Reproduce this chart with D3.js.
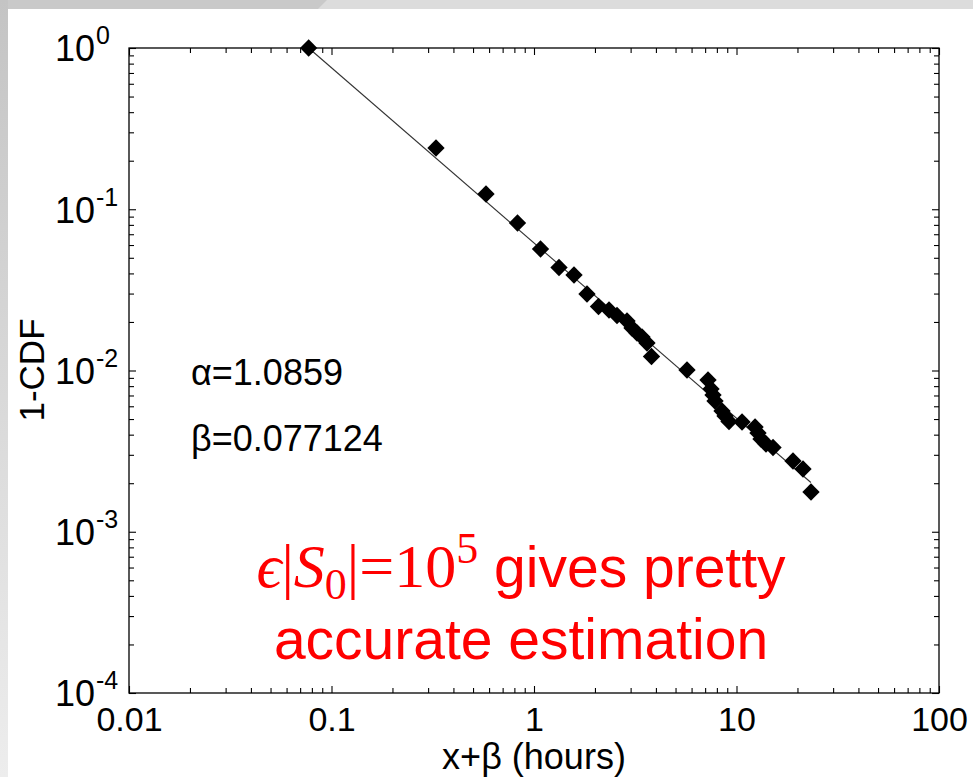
<!DOCTYPE html>
<html><head><meta charset="utf-8">
<script src="https://cdn.jsdelivr.net/npm/d3@7"></script>
<style>
html,body{margin:0;padding:0;background:#fff;overflow:hidden;}
svg{display:block;}
</style></head><body>
<svg id="c" width="973" height="777"></svg>
<script>
// ---- data ----
const xData = [0.077124, 0.3281, 0.5794, 0.8289, 1.077, 1.329, 1.576, 1.827, 2.082, 2.347, 2.570, 2.880, 3.048, 3.226, 3.415, 3.614, 3.804, 5.696, 7.234, 7.485, 7.656, 7.832, 8.482, 8.775, 9.183, 10.65, 12.35, 12.77, 13.21, 13.99, 15.15, 19.01, 21.30, 23.33];
const yData = [1, 0.2398, 0.1243, 0.08219, 0.05670, 0.04353, 0.03911, 0.02981, 0.02494, 0.02372, 0.02194, 0.02028, 0.01835, 0.01708, 0.01613, 0.01481, 0.01221, 0.01007, 0.008733, 0.007682, 0.007047, 0.006470, 0.005609, 0.005222, 0.004828, 0.004794, 0.004464, 0.004097, 0.003761, 0.003501, 0.003331, 0.002747, 0.002449, 0.001764];
const fitX = [0.077124, 23.3];
const fitY = [1, 0.00202];
const xTickValues = [0.01, 0.1, 1, 10, 100];
const xTickLabels = ["0.01", "0.1", "1", "10", "100"];
const yTickValues = [1, 0.1, 0.01, 0.001, 0.0001];
const yTickExponents = ["0", "-1", "-2", "-3", "-4"];
const paramLabels = ["\u03b1=1.0859", "\u03b2=0.077124"];
const xLabel = "x+\u03b2 (hours)";
const yLabel = "1-CDF";

// ---- layout ----
const W = 973, H = 777;
const L = 129, R = 939, T = 48, B = 693;
const svg = d3.select("#c");

// slide-like frame
const defs = svg.append("defs");
const lg = defs.append("linearGradient").attr("id", "lg").attr("x1", 0).attr("y1", 0).attr("x2", 0).attr("y2", 1);
lg.append("stop").attr("offset", "0%").attr("stop-color", "#c4c4c4");
lg.append("stop").attr("offset", "100%").attr("stop-color", "#ededed");
svg.append("rect").attr("width", W).attr("height", H).attr("fill", "#fff");
svg.append("rect").attr("x", 0).attr("y", 0).attr("width", W).attr("height", 9).attr("fill", "#dcdcdc");
svg.append("path").attr("d", "M0,0 L327,0 L318,9 L0,9 Z").attr("fill", "#c9c9c9");
svg.append("rect").attr("x", 0).attr("y", 0).attr("width", 8).attr("height", H).attr("fill", "url(#lg)");

const x = d3.scaleLog().domain([0.01, 100]).range([L, R]);
const y = d3.scaleLog().domain([1e-4, 1]).range([B, T]);

const minorX = [];
for (let e = -2; e < 2; e++) for (let m = 2; m < 10; m++) minorX.push(+(m * Math.pow(10, e)).toPrecision(3));
const minorY = [];
for (let e = -4; e < 0; e++) for (let m = 2; m < 10; m++) minorY.push(+(m * Math.pow(10, e)).toPrecision(3));

const font = "'Liberation Sans', Arial, Helvetica, sans-serif";

function styleAxis(g) {
  g.select(".domain").remove();
  g.selectAll(".tick line").attr("stroke", "#000").attr("stroke-width", 1.1);
}

// minor ticks, all four sides
svg.append("g").attr("transform", `translate(0,${B})`).call(d3.axisBottom(x).tickValues(minorX).tickSize(-5).tickFormat("")).call(styleAxis);
svg.append("g").attr("transform", `translate(0,${T})`).call(d3.axisTop(x).tickValues(minorX).tickSize(-5).tickFormat("")).call(styleAxis);
svg.append("g").attr("transform", `translate(${L},0)`).call(d3.axisLeft(y).tickValues(minorY).tickSize(-5).tickFormat("")).call(styleAxis);
svg.append("g").attr("transform", `translate(${R},0)`).call(d3.axisRight(y).tickValues(minorY).tickSize(-5).tickFormat("")).call(styleAxis);

// major ticks
const gxb = svg.append("g").attr("transform", `translate(0,${B})`)
  .call(d3.axisBottom(x).tickValues(xTickValues).tickSize(-7).tickPadding(14).tickFormat((d, i) => xTickLabels[i]))
  .call(styleAxis);
gxb.selectAll("text").attr("font-family", font).attr("font-size", 34).attr("fill", "#000");
svg.append("g").attr("transform", `translate(0,${T})`).call(d3.axisTop(x).tickValues(xTickValues).tickSize(-7).tickFormat("")).call(styleAxis);
const gyl = svg.append("g").attr("transform", `translate(${L},0)`)
  .call(d3.axisLeft(y).tickValues(yTickValues).tickSize(-7).tickFormat(""))
  .call(styleAxis);
svg.append("g").attr("transform", `translate(${R},0)`).call(d3.axisRight(y).tickValues(yTickValues).tickSize(-7).tickFormat("")).call(styleAxis);

// y tick labels 10^k
gyl.selectAll(".tick").each(function(d, i) {
  const t = d3.select(this).select("text");
  t.text(null).attr("x", 55 - L).attr("dy", "0.36em").attr("text-anchor", "start")
    .attr("font-family", font).attr("font-size", 36).attr("fill", "#000");
  t.append("tspan").text("10");
  t.append("tspan").attr("dx", 1).attr("dy", -17).attr("font-size", 25).text(yTickExponents[i]);
});

// box
svg.append("rect").attr("x", L).attr("y", T).attr("width", R - L).attr("height", B - T)
  .attr("fill", "none").attr("stroke", "#000").attr("stroke-width", 1.3);

// fit line
svg.append("path").datum(fitX.map((v, i) => [v, fitY[i]]))
  .attr("d", d3.line().x(d => x(d[0])).y(d => y(d[1])))
  .attr("stroke", "#333").attr("stroke-width", 1.1).attr("fill", "none");

// data diamonds
const diamond = d3.symbol().type(d3.symbolSquare).size(150);
svg.append("g").selectAll("path").data(xData.map((v, i) => [v, yData[i]])).join("path")
  .attr("d", diamond)
  .attr("transform", d => `translate(${x(d[0])},${y(d[1])}) rotate(45)`)
  .attr("fill", "#000");

// axis labels
svg.append("text").attr("x", 534).attr("y", 769).attr("text-anchor", "middle")
  .attr("font-family", font).attr("font-size", 36).attr("fill", "#000").text(xLabel);
svg.append("text").attr("transform", `translate(44,370) rotate(-90)`).attr("text-anchor", "middle")
  .attr("font-family", font).attr("font-size", 35).attr("fill", "#000").text(yLabel);

// parameters
svg.append("text").attr("x", 191).attr("y", 385).attr("font-family", font).attr("font-size", 36).attr("fill", "#000").text(paramLabels[0]);
svg.append("text").attr("x", 191).attr("y", 451).attr("font-family", font).attr("font-size", 36).attr("fill", "#000").text(paramLabels[1]);

// red annotation
const serif = "'Liberation Serif', 'DejaVu Serif', serif";
const red = "#ff0000";
const t1 = svg.append("text").attr("x", 521).attr("y", 587).attr("text-anchor", "middle").attr("fill", red).attr("font-size", 57).attr("font-family", font);
t1.append("tspan").attr("font-family", serif).attr("font-style", "italic").attr("font-size", 62).text("\u03f5");
t1.append("tspan").attr("font-family", serif).attr("font-size", 62).text("|");
t1.append("tspan").attr("font-family", serif).attr("font-style", "italic").attr("font-size", 62).text("S");
t1.append("tspan").attr("font-family", serif).attr("font-size", 44).attr("dy", 12).text("0");
t1.append("tspan").attr("font-family", serif).attr("font-size", 62).attr("dy", -12).text("|=10");
t1.append("tspan").attr("font-family", serif).attr("font-size", 44).attr("dy", -24).text("5");
t1.append("tspan").attr("dy", 24).text(" gives pretty");
svg.append("text").attr("x", 521).attr("y", 659).attr("text-anchor", "middle").attr("fill", red)
  .attr("font-size", 57).attr("font-family", font).text("accurate estimation");
</script>
</body></html>
